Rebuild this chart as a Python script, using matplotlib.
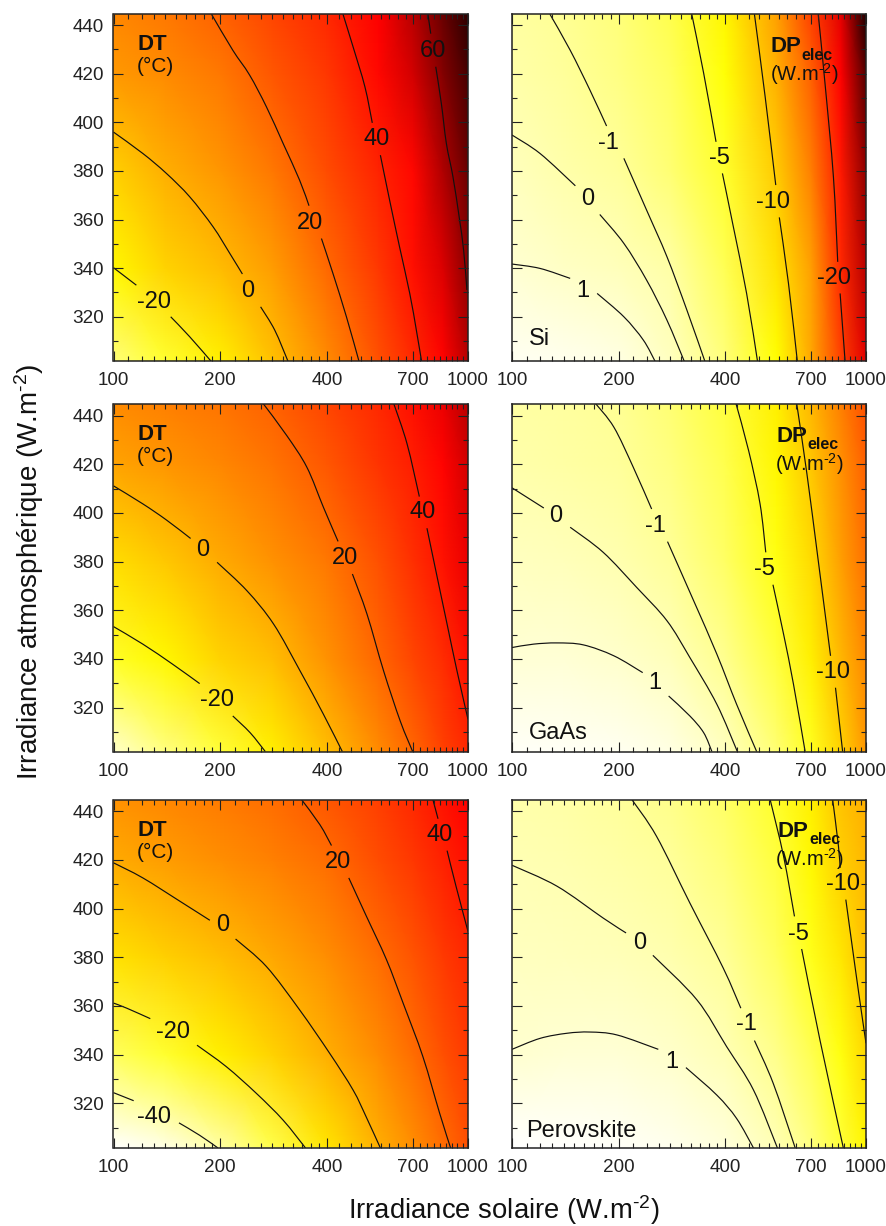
import matplotlib
matplotlib.use('Agg')
import matplotlib.pyplot as plt
from matplotlib.colors import LinearSegmentedColormap, Normalize
from matplotlib.ticker import FixedLocator, FixedFormatter
from matplotlib.path import Path
from matplotlib.patches import PathPatch
import numpy as np

plt.rcParams['font.family'] = ['Liberation Sans', 'DejaVu Sans']
plt.rcParams['mathtext.fontset'] = 'custom'
plt.rcParams['mathtext.rm'] = 'Liberation Sans'
plt.rcParams['mathtext.default'] = 'regular'

nan = float('nan')

# ---------- axes tick values ----------
X_MAJOR = [100, 200, 400, 700, 1000]
X_MINOR = [110, 120, 130, 140, 150, 160, 170, 180, 190,
           220, 240, 260, 280, 300, 320, 340, 360, 380,
           433, 467, 500, 533, 567, 600, 633, 667,
           733, 767, 800, 833, 867, 900, 933, 967]
Y_MAJOR = [320, 340, 360, 380, 400, 420, 440]
Y_MINOR = [310, 330, 350, 370, 390, 410, 430]

# ---------- field values ----------
X_NODES = [100, 140, 200, 280, 400, 560, 700, 850, 1000]
Y_NODES = [302, 340, 380, 420, 445]

A_Z = [[-35, -27, -18, -5, 10, 26, 37, 47, 56],
       [-20, -10, -3.5, 5, 19, 33, 44, 52, 61],
       [-9, 0, 7, 15, 27, 38.5, 46, 57, 65],
       [6, 10, 15, 24, 33, 46, 53, 62, 69],
       [11, 15, 21, 29, 37, 48, 56, 65, 72]]
B_Z = [[2.5, 2.3, 1.9, 0.5, -2.3, -7, -12.5, -19, -24],
       [1.2, 0.7, 0.3, -0.5, -3.7, -8.8, -13, -20.5, -25.5],
       [0.4, -0.3, -0.9, -2.5, -5.3, -10.3, -15, -21.5, -27],
       [-0.4, -0.9, -1.9, -3.3, -6.8, -12, -17, -23, -29],
       [-0.7, -1.2, -2.2, -4, -7.5, -13, -19, -24, -31]]
C_Z = [[-44, -36, -28, -18, -4, 10, 20, 30, 37],
       [-26, -20, -10, -4, 8, 20, 29, 36, 44],
       [-13, -7, 1, 8, 15, 26, 35, 43, 50],
       [3, 7, 11, 16, 24, 34, 40, 47, 53],
       [10, 13, 16, 21, 29, 37, 44, 50, 56]]
D_Z = [[2.7, 2.6, 2.4, 1.9, 0.5, -2.6, -5.8, -9.8, -13.5],
       [1.3, 1.3, 0.95, 0.3, -1.4, -4.6, -8, -11.5, -14.5],
       [0.5, 0.3, -0.1, -1, -3.1, -6.3, -9.3, -13, -16],
       [-0.3, -0.6, -0.9, -2, -4, -7.5, -10.5, -14, -17],
       [-0.6, -0.8, -1.2, -2.5, -4.6, -8, -11.5, -15, -18]]
E_Z = [[-50, -47, -40, -30, -15, 0, 9, 18, 26],
       [-32, -27, -18, -10, 0, 10, 18, 26, 32],
       [-14, -9, -4, 2, 9, 18, 25, 32, 37],
       [1, 5, 9, 13, 18, 27, 33, 39, 44],
       [8, 11, 14, 18, 24, 31, 37, 43, 48]]
F_Z = [[3, 2.9, 2.7, 2.3, 1.6, 0, -2, -4.8, -7.5],
       [1.1, 1.3, 1.3, 0.9, 0.1, -1.6, -3.8, -6.5, -9.5],
       [0.5, 0.4, 0.2, -0.2, -1.1, -3.4, -6, -8.5, -11],
       [0.05, -0.2, -0.5, -1, -2.4, -4.6, -7.4, -10, -11.5],
       [-0.3, -0.5, -0.9, -1.6, -3.1, -5.4, -8, -10.8, -12]]

# ---------- contour lines (nan = gap at a label) ----------
A_60_x = [771, 785, nan, 811, 841, 869, 907, 944, 972, 993]
A_60_y = [444.5, 436.5, nan, 422.9, 407.8, 391.3, 377.6, 361.2, 347.4, 331]
A_40_x = [444, 474, 512, 537, nan, 566, 601, 641, 685, 715, 740]
A_40_y = [444.5, 431.1, 414.6, 399.8, nan, 386.5, 368, 348.8, 329.6, 314.5, 301.5]
A_20_x = [189, 217, 242, 270, 301, 335, 356, nan, 386, 416, 454, 493]
A_20_y = [444.5, 429.7, 419.5, 406.4, 391.3, 376.2, 365.7, nan, 352.2, 337.8, 320, 301.5]
A_0_x = [100, 121, 141, 164, 191, 213, 231, nan, 260, 285, 311]
A_0_y = [396, 387.2, 379, 369.4, 357, 346, 337.6, nan, 324.1, 314.5, 301.5]
A_m20_x = [100, 116, nan, 145, 164, 189]
A_m20_y = [340.2, 333, nan, 320, 311.8, 301.5]

B_1_x = [100, 120, 146, nan, 174, 207, 235, 254]
B_1_y = [341.7, 339.9, 335.8, nan, 329.6, 320, 310.4, 301.5]
B_0_x = [100, 120, 151, nan, 177, 207, 240, 274, 307]
B_0_y = [394.8, 387.2, 373.9, nan, 362.1, 350.2, 335.1, 318.6, 301.5]
B_m1_x = [128, 146, 166, 185, nan, 207, 240, 274, 312, 351]
B_m1_y = [444.5, 429.7, 413.3, 398.5, nan, 385.2, 363.9, 344.7, 322.7, 301.5]
B_m5_x = [322, 348, 377, nan, 393, 422, 460, 494]
B_m5_y = [444.5, 420.1, 392, nan, 379, 357, 329.6, 301.5]
B_m10_x = [484, 519, 556, nan, 569, 604, 640]
B_m10_y = [444.5, 410.5, 374.2, nan, 360.9, 333.7, 301.5]
B_m20_x = [733, 766, 809, 832, nan, 845, 873]
B_m20_y = [444.5, 416, 377.6, 342.6, nan, 329.6, 301.5]

C_40_x = [617, 673, 729, nan, 766, 817, 873, 931, 1000]
C_40_y = [445, 428.4, 406.7, nan, 393.7, 374.2, 354.3, 335.1, 315.2]
C_20_x = [264, 308, 351, 391, 430, nan, 472, 519, 578, 644, 698]
C_20_y = [445, 431.8, 418.8, 402.3, 388.3, nan, 374.9, 358.4, 335.1, 314.5, 302]
C_0_x = [100, 121, 141, 165, nan, 196, 238, 283, 336, 391, 442]
C_0_y = [411.1, 403.7, 397.1, 389.5, nan, 379.7, 368, 354.3, 335.1, 317.3, 302]
C_m20_x = [100, 121, 147, 175, nan, 217, 243, 268]
C_m20_y = [353.3, 346.1, 337.8, 329.9, nan, 316.6, 309.7, 302]

D_1_x = [100, 115, 134, 159, 194, 234, nan, 277, 318, 348, 367]
D_1_y = [344.7, 346.1, 346.6, 345.8, 341.3, 334.4, nan, 324.8, 316.6, 309.7, 302]
D_0_x = [100, 123, nan, 146, 181, 225, 274, 318, 379, 433]
D_0_y = [410.3, 402, nan, 394.1, 383.8, 369.4, 355.7, 340.6, 321.4, 302]
D_m1_x = [172, 194, 220, 248, nan, 275, 326, 379, 431, 491]
D_m1_y = [445, 435.2, 418.8, 401.6, nan, 388.2, 363.9, 342, 321.4, 302]
D_m5_x = [429, 466, 502, 521, nan, 546, 585, 624, 673]
D_m5_y = [445, 425.6, 403.7, 383.8, nan, 370.5, 350.2, 329.6, 302]
D_m10_x = [637, 681, 733, 794, nan, 820, 859]
D_m10_y = [445, 416, 380.4, 341.3, nan, 328.2, 302]

E_40_x = [796, 823, nan, 873, 925, 1000]
E_40_y = [444.8, 436.9, nan, 423.8, 409.2, 390.6]
E_20_x = [339, 382, 412, nan, 461, 516, 589, 656, 746, 832, 893]
E_20_y = [444.8, 434.5, 425.9, nan, 412.6, 397.1, 379, 361.2, 339.2, 315.9, 301.7]
E_0_x = [100, 121, 154, 187, nan, 221, 270, 335, 407, 474, 516, 566]
E_0_y = [418.8, 412.6, 403, 395.2, nan, 387.5, 376.2, 358.4, 340.6, 325.5, 314.5, 301.7]
E_m20_x = [100, 109, 127, nan, 172, 208, 253, 301, 348]
E_m20_y = [361.2, 359.1, 354.8, nan, 343.9, 335.1, 324.1, 313.1, 301.7]
E_m40_x = [100, 114, nan, 153, 175, 197]
E_m40_y = [324.4, 321.1, nan, 312, 306.9, 301.7]

F_1_x = [100, 120, 143, 166, 198, 259, nan, 310, 379, 431, 481]
F_1_y = [342.2, 346.7, 348.8, 349.3, 348.1, 342.2, nan, 334.7, 323.4, 313.8, 301.7]
F_0_x = [100, 134, 181, 210, nan, 250, 333, 404, 481, 562]
F_0_y = [417.8, 409.2, 396.1, 390, nan, 380.8, 362.5, 343.3, 325.5, 301.7]
F_m1_x = [218, 256, 318, 395, 443, nan, 484, 547, 631]
F_m1_y = [444.8, 429.7, 402.3, 375.6, 359.1, nan, 345.8, 328.2, 301.7]
F_m5_x = [536, 585, 628, nan, 658, 741, 863]
F_m5_y = [444.8, 421.5, 396.8, nan, 383.4, 346.1, 301.7]
F_m10_x = [805, 836, 845, nan, 877, 931, 972, 1000]
F_m10_y = [444.8, 425.6, 416.7, nan, 403.7, 376.2, 357, 344.7]

# ---------- contour label values and places ----------
A_lab = ['60', '40', '20', '0', '-20']
A_lab_x = [796, 552, 358, 239, 130]
A_lab_y = [430.4, 394.3, 359.8, 331.7, 327.1]
B_lab = ['1', '0', '-1', '-5', '-10', '-20']
B_lab_x = [158, 164, 187, 386, 546, 813]
B_lab_y = [331.7, 369.7, 392.7, 386.5, 368.4, 337.1]
C_lab = ['40', '20', '0', '-20']
C_lab_x = [746, 450, 179, 196]
C_lab_y = [401.2, 382.6, 385.6, 324.1]
D_lab = ['1', '0', '-1', '-5', '-10']
D_lab_x = [254, 133, 255, 515, 809]
D_lab_y = [331, 399.6, 395.7, 378, 335.8]
E_lab = ['40', '20', '0', '-20', '-40']
E_lab_x = [832, 429, 203, 147, 130]
E_lab_y = [431.1, 420.1, 394.1, 350.2, 315.6]
F_lab = ['1', '0', '-1', '-5', '-10']
F_lab_x = [283, 229, 458, 644, 859]
F_lab_y = [338.1, 386.8, 353.6, 390.4, 411.3]

# ---------- colour scales: (value, colour) stops ----------
DT_STOPS = [(-50, '#ffffff'), (-22, '#ffff00'), (48, '#ff0000'), (77, '#000000')]
DP_STOPS = [(-32, '#000000'), (-23, '#ff0000'), (-7, '#ffff00'), (3, '#ffffff')]


def make_scale(stops):
    lo, hi = stops[0][0], stops[-1][0]
    cmap = LinearSegmentedColormap.from_list(
        'scale', [((v - lo) / (hi - lo), c) for v, c in stops], N=512)
    return cmap, Normalize(lo, hi)


W, H = 887, 1226
LEFT_X = (113.5, 468.0)
RIGHT_X = (512.0, 866.0)
ROWS = [(14.0, 361.0), (404.3, 752.0), (800.0, 1147.7)]
fig = plt.figure(figsize=(W / 100, H / 100), dpi=100)

LINE_COL = '#111111'
TXT = '#111111'


def curve_through(xs, ys):
    """Smooth Bezier path through the read points, pieces split at nan."""
    verts, codes = [], []
    xs = np.asarray(xs, float)
    ys = np.asarray(ys, float)
    splits = np.where(np.isnan(xs))[0]
    for sx, sy in zip(np.split(xs, splits), np.split(ys, splits)):
        keep = ~np.isnan(sx)
        lx, py = np.log10(sx[keep]), sy[keep]
        pts = np.column_stack([lx, py])
        n = len(pts)
        verts.append((sx[keep][0], py[0]))
        codes.append(Path.MOVETO)
        for i in range(n - 1):
            p0 = pts[max(i - 1, 0)]
            p1, p2 = pts[i], pts[i + 1]
            p3 = pts[min(i + 2, n - 1)]
            c1 = p1 + (p2 - p0) / 6
            c2 = p2 - (p3 - p1) / 6
            for c in (c1, c2, p2):
                verts.append((10 ** c[0], c[1]))
            codes += [Path.CURVE4, Path.CURVE4, Path.CURVE4]
    return Path(verts, codes)


def panel(px, py, Z, stops, lines, lx, ly, lt, ylabels):
    ax = fig.add_axes([px[0] / W, 1 - py[1] / H, (px[1] - px[0]) / W, (py[1] - py[0]) / H])
    cmap, norm = make_scale(stops)
    ax.set_xscale('log')
    ax.pcolormesh(X_NODES, Y_NODES, np.array(Z), cmap=cmap, norm=norm, shading='gouraud')
    for xs, ys in lines:
        ax.add_patch(PathPatch(curve_through(xs, ys), fill=False, edgecolor=LINE_COL,
                               lw=0.85, capstyle='butt'))
    for x, y, t in zip(lx, ly, lt):
        ax.text(x, y, t, fontsize=17, color=TXT, ha='center', va='center_baseline')
    ax.set_xlim(100, 1000)
    ax.set_ylim(301.8, 444.6)
    ax.xaxis.set_major_locator(FixedLocator(X_MAJOR))
    ax.xaxis.set_major_formatter(FixedFormatter([str(v) for v in X_MAJOR]))
    ax.xaxis.set_minor_locator(FixedLocator(X_MINOR))
    ax.xaxis.set_minor_formatter(FixedFormatter([''] * len(X_MINOR)))
    ax.yaxis.set_major_locator(FixedLocator(Y_MAJOR))
    ax.yaxis.set_minor_locator(FixedLocator(Y_MINOR))
    if ylabels:
        ax.yaxis.set_major_formatter(FixedFormatter([str(v) for v in Y_MAJOR]))
    else:
        ax.yaxis.set_major_formatter(FixedFormatter([''] * len(Y_MAJOR)))
    ax.tick_params(which='both', direction='in', top=True, right=True, color='#222222', width=0.8)
    ax.tick_params(which='major', length=7, labelsize=13.6, labelcolor='#222222')
    ax.tick_params(axis='x', which='major', pad=8)
    ax.tick_params(axis='y', which='major', pad=7)
    ax.tick_params(which='minor', length=3.5)
    for s in ax.spines.values():
        s.set_linewidth(1.1)
        s.set_color('#222222')
    return ax


axA = panel(LEFT_X, ROWS[0], A_Z, DT_STOPS,
            [(A_60_x, A_60_y), (A_40_x, A_40_y), (A_20_x, A_20_y), (A_0_x, A_0_y), (A_m20_x, A_m20_y)],
            A_lab_x, A_lab_y, A_lab, True)
axB = panel(RIGHT_X, ROWS[0], B_Z, DP_STOPS,
            [(B_1_x, B_1_y), (B_0_x, B_0_y), (B_m1_x, B_m1_y), (B_m5_x, B_m5_y), (B_m10_x, B_m10_y), (B_m20_x, B_m20_y)],
            B_lab_x, B_lab_y, B_lab, False)
axC = panel(LEFT_X, ROWS[1], C_Z, DT_STOPS,
            [(C_40_x, C_40_y), (C_20_x, C_20_y), (C_0_x, C_0_y), (C_m20_x, C_m20_y)],
            C_lab_x, C_lab_y, C_lab, True)
axD = panel(RIGHT_X, ROWS[1], D_Z, DP_STOPS,
            [(D_1_x, D_1_y), (D_0_x, D_0_y), (D_m1_x, D_m1_y), (D_m5_x, D_m5_y), (D_m10_x, D_m10_y)],
            D_lab_x, D_lab_y, D_lab, False)
axE = panel(LEFT_X, ROWS[2], E_Z, DT_STOPS,
            [(E_40_x, E_40_y), (E_20_x, E_20_y), (E_0_x, E_0_y), (E_m20_x, E_m20_y), (E_m40_x, E_m40_y)],
            E_lab_x, E_lab_y, E_lab, True)
axF = panel(RIGHT_X, ROWS[2], F_Z, DP_STOPS,
            [(F_1_x, F_1_y), (F_0_x, F_0_y), (F_m1_x, F_m1_y), (F_m5_x, F_m5_y), (F_m10_x, F_m10_y)],
            F_lab_x, F_lab_y, F_lab, False)


def at(ax, x, y, s, **kw):
    kw.setdefault('color', TXT)
    ax.text(x, y, s, transform=ax.transAxes, ha='center', va='center_baseline', **kw)


for ax in (axA, axC, axE):
    at(ax, 0.109, 0.919, 'DT', fontsize=16, fontweight='bold')
    at(ax, 0.117, 0.855, '(°C)', fontsize=15)

DP_TITLES = [(axB, 0.774, 0.913, 0.861, 0.886, 0.826, 0.836),
             (axD, 0.790, 0.916, 0.878, 0.890, 0.839, 0.837),
             (axF, 0.795, 0.918, 0.884, 0.890, 0.839, 0.840)]
for ax, x1, y1, x2, y2, x3, y3 in DP_TITLES:
    at(ax, x1, y1, 'DP', fontsize=16, fontweight='bold')
    at(ax, x2, y2, 'elec', fontsize=11.5, fontweight='bold')
    at(ax, x3, y3, '(W.m$^{\u2010 2}$)', fontsize=14.5)

at(axB, 0.077, 0.072, 'Si', fontsize=17)
at(axD, 0.132, 0.063, 'GaAs', fontsize=17)
at(axF, 0.195, 0.056, 'Perovskite', fontsize=17)

fig.text(504 / W, 1 - 1210 / H, 'Irradiance solaire (W.m$^{\u2010 2}$)', fontsize=19.8,
         ha='center', va='center', color=TXT)
fig.text(29 / W, 1 - 572 / H, 'Irradiance atmosphérique (W.m$^{\u2010 2}$)', fontsize=20,
         rotation=90, ha='center', va='center', color=TXT)

fig.savefig('out.png', dpi=100, facecolor='white')
